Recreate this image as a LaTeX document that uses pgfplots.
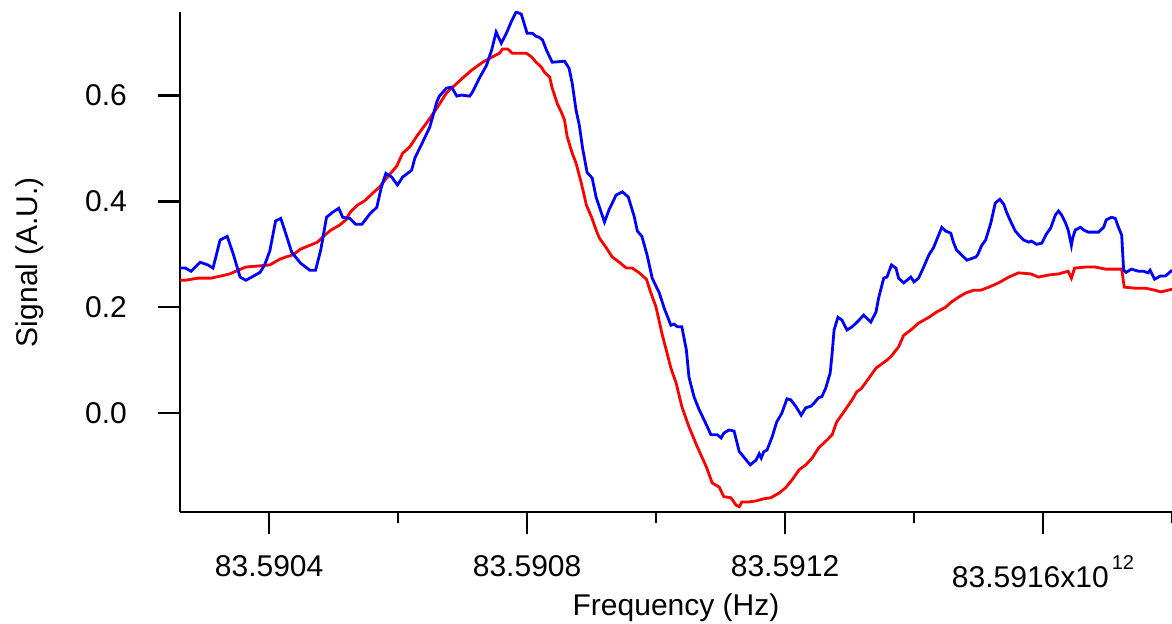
\documentclass[border=0pt]{standalone}
\usepackage{pgfplots}
\pgfplotsset{compat=1.18}
\usepackage{fontspec}
\setmainfont{Liberation Sans}

% Frequencies are stored as offsets in MHz from 83.59 THz
\pgfplotstableread{
f s
262 0.251
270 0.251
290 0.255
310 0.255
325 0.259
339 0.263
352 0.270
364 0.276
383 0.278
401 0.280
417 0.291
426 0.295
437 0.299
449 0.310
463 0.317
475 0.323
486 0.336
496 0.346
509 0.355
519 0.365
526 0.380
537 0.393
548 0.401
561 0.416
571 0.427
582 0.444
598 0.467
607 0.491
618 0.503
630 0.525
644 0.548
660 0.576
675 0.605
691 0.623
700 0.633
714 0.648
731 0.663
746 0.673
757 0.680
762 0.688
770 0.688
777 0.680
788 0.680
799 0.680
807 0.673
814 0.663
822 0.654
827 0.644
835 0.635
839 0.614
847 0.584
853 0.569
858 0.554
862 0.523
870 0.491
876 0.472
884 0.435
892 0.393
900 0.370
907 0.346
912 0.331
923 0.312
932 0.295
943 0.285
954 0.274
963 0.274
974 0.265
985 0.253
992 0.227
1000 0.200
1009 0.151
1023 0.085
1031 0.057
1040 0.012
1051 -0.026
1064 -0.064
1078 -0.102
1087 -0.132
1098 -0.140
1105 -0.158
1116 -0.160
1124 -0.174
1129 -0.177
1133 -0.168
1144 -0.168
1155 -0.166
1167 -0.162
1178 -0.160
1191 -0.151
1201 -0.141
1211 -0.126
1222 -0.107
1232 -0.098
1242 -0.085
1252 -0.066
1265 -0.051
1273 -0.041
1280 -0.017
1291 0.002
1304 0.025
1311 0.040
1318 0.046
1330 0.066
1341 0.085
1358 0.100
1365 0.108
1376 0.125
1384 0.147
1395 0.157
1407 0.170
1423 0.181
1435 0.191
1449 0.200
1458 0.210
1469 0.219
1480 0.227
1492 0.232
1503 0.232
1516 0.238
1531 0.246
1547 0.257
1562 0.265
1581 0.263
1593 0.257
1609 0.261
1624 0.263
1639 0.268
1644 0.255
1649 0.274
1666 0.276
1681 0.276
1697 0.272
1712 0.272
1722 0.272
1726 0.238
1743 0.236
1759 0.236
1774 0.232
1783 0.229
1800 0.234
}\redtrace

\pgfplotstableread{
f s
262 0.274
270 0.274
279 0.268
293 0.285
305 0.280
313 0.274
324 0.327
335 0.334
344 0.302
355 0.257
364 0.251
373 0.257
386 0.266
393 0.280
401 0.306
410 0.363
418 0.368
424 0.346
435 0.304
449 0.283
463 0.270
472 0.270
480 0.308
489 0.370
499 0.380
508 0.387
514 0.370
525 0.368
534 0.357
544 0.357
556 0.376
567 0.389
574 0.427
581 0.453
590 0.446
599 0.431
607 0.446
621 0.459
626 0.482
638 0.512
649 0.540
660 0.588
664 0.599
675 0.614
683 0.616
691 0.599
698 0.601
711 0.599
715 0.606
726 0.633
737 0.657
745 0.686
752 0.720
760 0.699
768 0.718
776 0.741
783 0.758
791 0.754
800 0.718
808 0.718
814 0.712
819 0.710
824 0.705
830 0.686
839 0.663
858 0.665
865 0.652
870 0.623
876 0.572
881 0.544
886 0.501
893 0.455
901 0.444
907 0.408
920 0.361
927 0.384
938 0.412
948 0.418
957 0.408
966 0.372
971 0.344
978 0.334
986 0.299
994 0.255
1005 0.227
1013 0.197
1023 0.166
1028 0.168
1033 0.163
1040 0.163
1047 0.119
1051 0.068
1059 0.030
1067 0.006
1078 -0.022
1085 -0.041
1095 -0.041
1101 -0.047
1105 -0.038
1113 -0.032
1121 -0.034
1129 -0.073
1136 -0.083
1146 -0.098
1155 -0.089
1160 -0.077
1163 -0.085
1167 -0.073
1172 -0.070
1180 -0.045
1187 -0.017
1195 0.000
1203 0.027
1209 0.025
1217 0.012
1225 -0.004
1232 0.010
1240 0.013
1245 0.019
1252 0.029
1257 0.031
1263 0.047
1270 0.076
1273 0.113
1276 0.157
1282 0.181
1288 0.176
1296 0.157
1304 0.163
1310 0.170
1322 0.185
1333 0.172
1341 0.191
1345 0.217
1353 0.255
1358 0.257
1365 0.280
1372 0.274
1376 0.255
1384 0.246
1395 0.257
1400 0.248
1407 0.255
1415 0.276
1423 0.299
1430 0.312
1435 0.327
1443 0.351
1449 0.344
1457 0.340
1461 0.323
1466 0.308
1477 0.295
1482 0.289
1496 0.295
1499 0.300
1505 0.317
1511 0.327
1519 0.359
1526 0.397
1533 0.404
1539 0.395
1544 0.378
1551 0.359
1557 0.344
1565 0.333
1570 0.327
1578 0.323
1582 0.325
1590 0.319
1598 0.321
1605 0.338
1612 0.350
1619 0.374
1624 0.382
1629 0.374
1635 0.359
1639 0.346
1644 0.317
1646 0.331
1650 0.346
1658 0.351
1663 0.346
1670 0.342
1681 0.342
1686 0.342
1694 0.351
1698 0.365
1706 0.370
1712 0.368
1717 0.351
1722 0.336
1725 0.270
1729 0.266
1737 0.272
1748 0.268
1756 0.268
1763 0.265
1766 0.270
1773 0.253
1782 0.259
1790 0.259
1800 0.270
}\bluetrace

\begin{document}
\begin{tikzpicture}
\begin{axis}[
  scale only axis, width=496pt, height=250pt,
  xmin=261.8, xmax=1800, ymin=-0.187, ymax=0.758,
  axis x line*=bottom, axis y line*=left,
  axis line style={line width=1.2pt, black},
  tick align=outside,
  major tick length=11pt, minor tick length=5.5pt,
  every tick/.style={black, line width=1.2pt},
  xtick={400,800,1200,1600}, minor xtick={600,1000,1400,1800},
  xticklabels={83.5904, 83.5908, 83.5912,
    {83.5916x10\hspace{1.5pt}\raisebox{9.3pt}{\fontsize{10}{12}\selectfont 12}}},
  ytick={0,0.2,0.4,0.6}, yticklabels={0.0,0.2,0.4,0.6},
  ticklabel style={font=\fontsize{15}{18}\selectfont},
  xticklabel style={anchor=north, yshift=-7pt},
  yticklabel style={anchor=east, xshift=-12pt},
  xlabel={Frequency (Hz)}, ylabel={Signal (A.U.)},
  label style={font=\fontsize{15}{18}\selectfont},
  xlabel style={at={(axis description cs:0.5,-0.206)}, anchor=base},
  ylabel style={at={(axis description cs:-0.1437,0.5)}, anchor=base},
]
\addplot[color=red, line width=1.4pt] table[x=f, y=s] {\redtrace};
\addplot[color=blue, line width=1.4pt] table[x=f, y=s] {\bluetrace};
\coordinate (bl) at (rel axis cs:0,0);
\coordinate (tr) at (rel axis cs:1,1);
\end{axis}
\pgfresetboundingbox
\path[use as bounding box] ([shift={(-90pt,-55.5pt)}]bl) rectangle ([shift={(0pt,6pt)}]tr);
\end{tikzpicture}
\end{document}
